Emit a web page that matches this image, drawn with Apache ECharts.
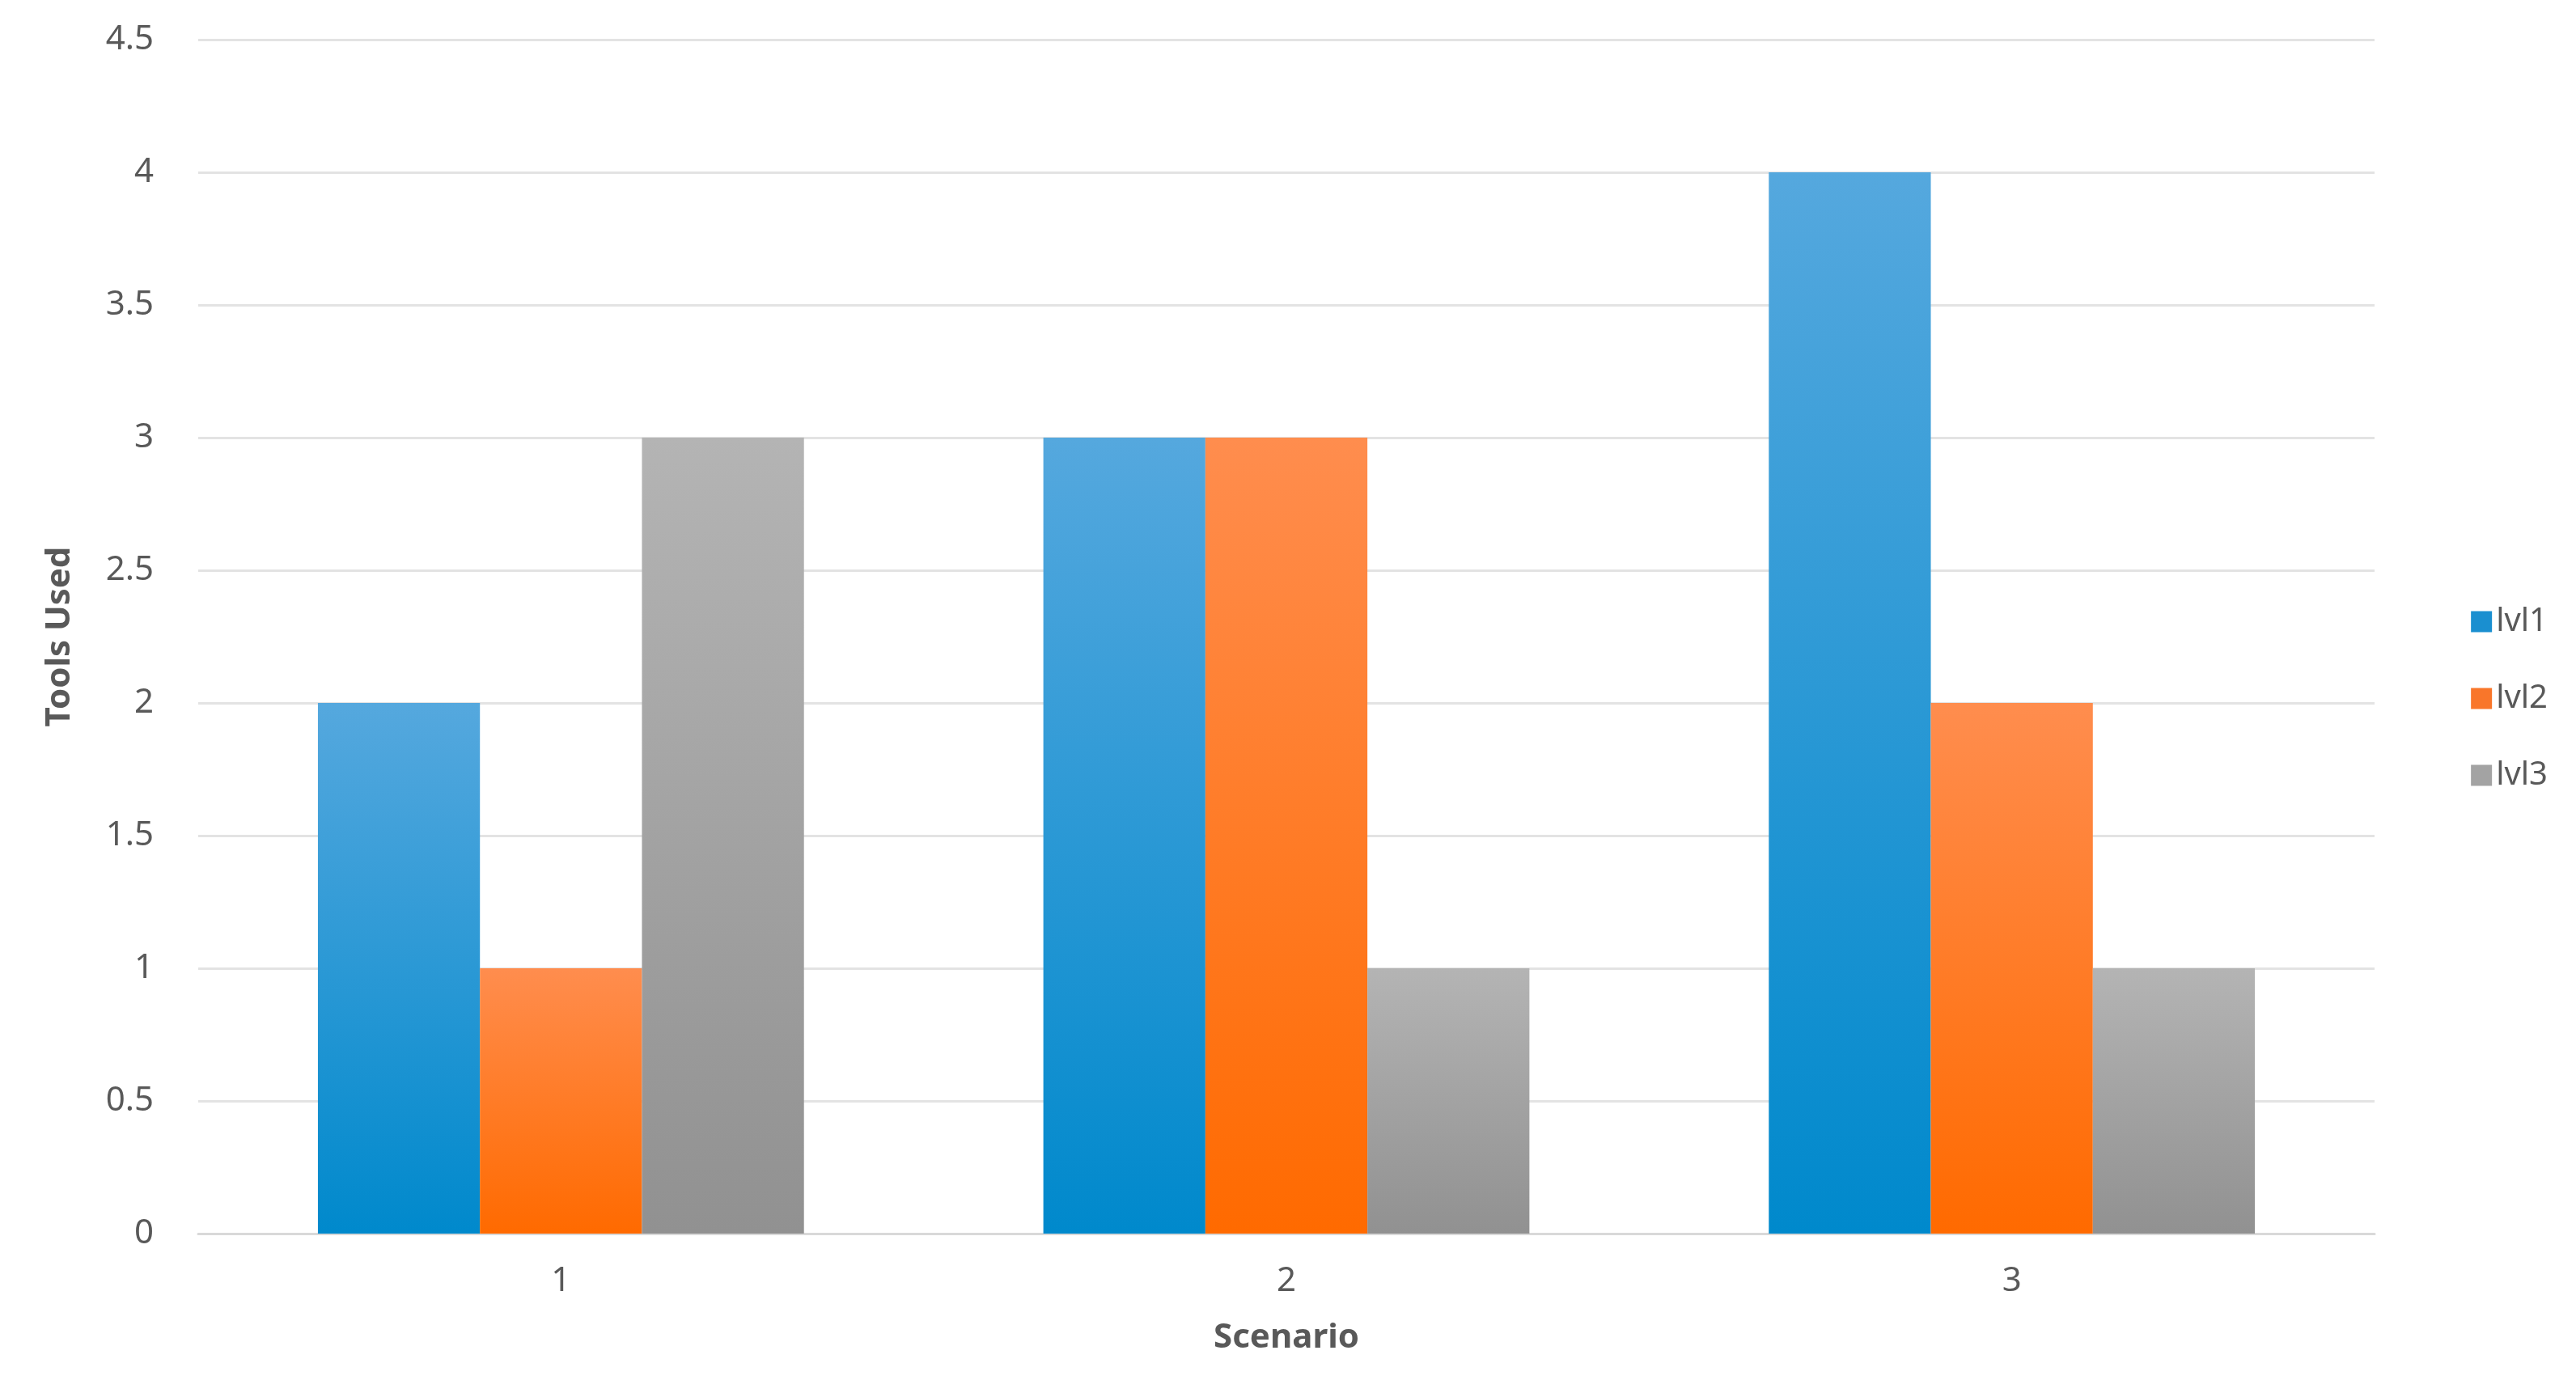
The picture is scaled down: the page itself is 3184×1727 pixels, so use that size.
<!DOCTYPE html>
<html><head><meta charset="utf-8">
<script src="https://cdn.jsdelivr.net/npm/echarts@6/dist/echarts.min.js"></script>
<style>html,body{margin:0;padding:0;background:#fff}#c{width:3184px;height:1727px}</style>
</head><body><div id="c"></div>
<script>
const categories = ['1', '2', '3'];
const lvl1 = [2, 3, 4];
const lvl2 = [1, 3, 2];
const lvl3 = [3, 1, 1];
const seriesNames = ['lvl1', 'lvl2', 'lvl3'];

function grad(top, bottom) {
  return new echarts.graphic.LinearGradient(0, 0, 0, 1, [{offset: 0, color: top}, {offset: 1, color: bottom}]);
}
const fills = [grad('#55a8de', '#0089cc'), grad('#ff8d4e', '#ff6a00'), grad('#b4b4b4', '#919191')];
const legendColors = ['#1a8fd0', '#f9762a', '#a3a3a3'];
const data = [lvl1, lvl2, lvl3];

const chart = echarts.init(document.getElementById('c'));
const font = 'Noto Sans';
chart.setOption({
  animation: false,
  textStyle: {fontFamily: font},
  grid: {left: 245, right: 249, top: 49, bottom: 202},
  legend: {
    orient: 'vertical', right: 30, top: 'middle',
    itemWidth: 26, itemHeight: 26, itemGap: 55,
    textStyle: {fontSize: 40, color: '#595959', fontFamily: font},
    data: seriesNames.map((n, i) => ({name: n, icon: 'rect', itemStyle: {color: legendColors[i]}}))
  },
  xAxis: {
    type: 'category', data: categories,
    name: 'Scenario', nameLocation: 'middle', nameGap: 108,
    nameTextStyle: {fontSize: 42, fontWeight: 'bold', color: '#595959'},
    axisLine: {lineStyle: {color: '#d9d9d9', width: 3}},
    axisTick: {show: false},
    axisLabel: {fontSize: 42, color: '#595959', margin: 38}
  },
  yAxis: {
    type: 'value', min: 0, max: 4.5, interval: 0.5,
    name: 'Tools Used', nameLocation: 'middle', nameGap: 150,
    nameTextStyle: {fontSize: 42, fontWeight: 'bold', color: '#595959'},
    axisLine: {show: false}, axisTick: {show: false},
    splitLine: {lineStyle: {color: '#e3e3e3', width: 3}},
    axisLabel: {fontSize: 42, color: '#595959', margin: 55}
  },
  series: seriesNames.map((n, i) => ({
    name: n, type: 'bar', data: data[i],
    barGap: '0%', barCategoryGap: '33%',
    itemStyle: {color: fills[i]}
  }))
});
</script></body></html>
